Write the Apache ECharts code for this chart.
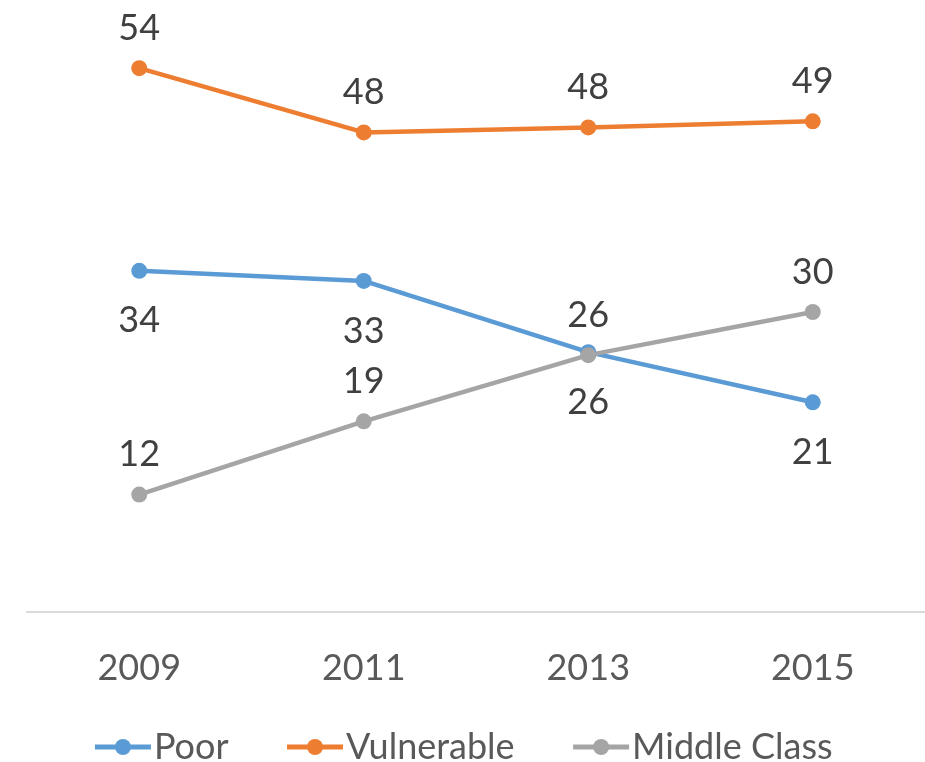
<!DOCTYPE html>
<html>
<head>
<meta charset="utf-8">
<title>Poor / Vulnerable / Middle Class</title>
<script src="https://cdn.jsdelivr.net/npm/echarts@6/dist/echarts.min.js"></script>
<style>
  html, body { margin: 0; padding: 0; background: #fff; }
  #chart { width: 925px; height: 762px; }
</style>
</head>
<body>
<div id="chart"></div>
<script>
// 年份
var years = ['2009', '2011', '2013', '2015'];
// 各组数据
var poorList = [34.0, 33.0, 25.9, 20.9];
var vulnerableList = [54.2, 47.8, 48.3, 48.9];
var middleList = [11.7, 19.0, 25.6, 29.9];

var font = 'Lato, "Open Sans", sans-serif';

function makeSeries(name, data, color, pos, dist) {
    return {
        name: name,
        type: 'line',
        data: data,
        symbol: 'circle',
        symbolSize: 16,
        lineStyle: { width: 4.5, color: color },
        itemStyle: { color: color },
        label: {
            show: true,
            position: pos,
            distance: dist,
            fontFamily: font,
            fontSize: 36,
            color: '#404040',
            formatter: function (p) { return Math.round(p.value); }
        }
    };
}

var myChart = echarts.init(document.getElementById('chart'));
var option = {
    animation: false,
    grid: { left: 27, right: 0, top: 10, bottom: 150 },
    xAxis: {
        type: 'category',
        data: years,
        axisLine: { lineStyle: { color: '#d9d9d9', width: 2 } },
        axisTick: { show: false },
        axisLabel: { fontFamily: font, fontSize: 36, color: '#595959', margin: 38 }
    },
    yAxis: {
        type: 'value',
        min: 0,
        max: 60,
        show: false
    },
    legend: {
        top: 724,
        left: 'center',
        itemWidth: 56,
        itemHeight: 20,
        itemGap: 56,
        lineStyle: { width: 5 },
        textStyle: { fontFamily: font, fontSize: 36, color: '#595959', padding: [0, 0, 0, -2] },
        data: ['Poor', 'Vulnerable', 'Middle Class']
    },
    series: [
        makeSeries('Poor', poorList, '#5b9bd5', 'bottom', 24),
        makeSeries('Vulnerable', vulnerableList, '#ed7d31', 'top', 14),
        makeSeries('Middle Class', middleList, '#a5a5a5', 'top', 14)
    ]
};
myChart.setOption(option);
</script>
</body>
</html>
